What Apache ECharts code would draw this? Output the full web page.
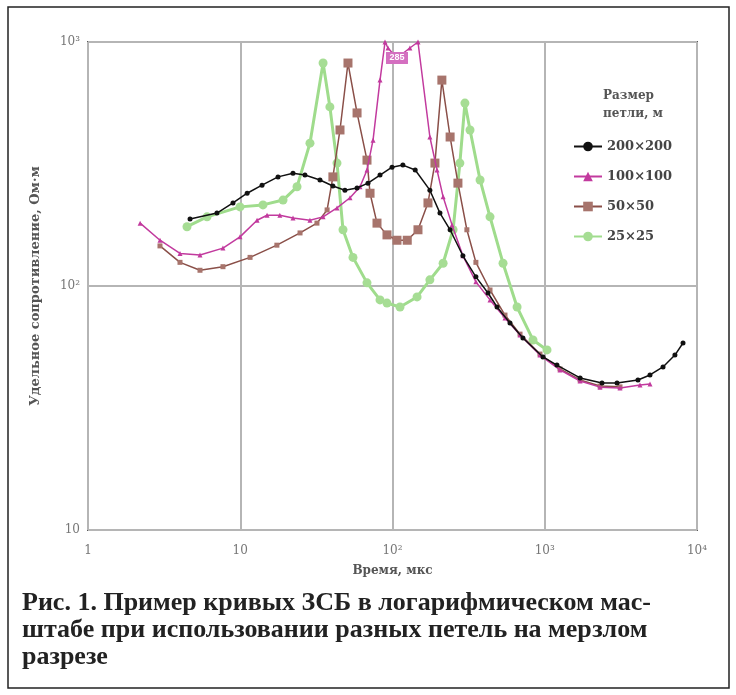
<!DOCTYPE html>
<html><head><meta charset="utf-8">
<script src="https://cdn.jsdelivr.net/npm/echarts@6/dist/echarts.min.js"></script>
<style>html,body{margin:0;padding:0;background:#fff}#c{width:736px;height:695px}</style>
</head><body><div id="c"></div>
<script>
// Series data: [time (мкс), resistivity (Ом·м)]
const s200 = [[4.68,188],[7.03,199],[8.96,219],[11.1,240],[13.9,259],[17.7,280],[22.2,290],[26.6,285],[33.4,272],[40.6,257],[48.7,247],[58.5,252],[69.0,264],[82.8,285],[99.3,307],[117,313],[141,299],[176,247],[205,199],[239,170],[290,133],[353,109],[424,93.6],[486,82],[591,70.5],[719,61.2],[973,51.2],[1202,47.4],[1706,42],[2377,40],[2985,40],[4094,41.2],[4911,43.2],[5980,46.6],[7162,52.1],[8094,58.4]];
const s100 = [[2.20,181],[2.97,154],[4.02,136],[5.44,134],[7.70,143],[9.96,159],[12.9,186],[15.0,195],[18.2,195],[22.2,190],[28.7,186],[35.0,192],[43.2,209],[52.6,230],[61.2,255],[68.0,299],[74.5,396],[82.8,698],[89.3,1000],[93.4,945],[107,860],[130,945],[147,1000],[176,408],[196,299],[215,232],[246,178],[290,133],[353,104],[437,87.7],[548,73.9],[688,63],[930,52.1],[1259,45.3],[1706,40.8],[2307,38.5],[3121,38.2],[4224,39.3],[4911,39.7]];
const s50 = [[2.97,146],[4.02,125],[5.44,116],[7.70,120],[11.6,131],[17.4,147],[24.7,165],[31.9,181],[37.2,205],[40.6,280],[45.2,436],[51.0,820],[58.5,512],[68.0,328],[71.2,240],[79.1,181],[92.0,162],[107,154],[125,154],[147,170],[171,219],[190,319],[211,698],[239,408],[269,264],[308,170],[353,125],[437,96.3],[548,76],[688,63.5],[930,52.6],[1259,45.7],[1706,41.2],[2307,38.9],[3121,38.6]];
const s25 = [[4.47,175],[6.05,192],[9.96,211],[14.1,215],[19.1,225],[23.6,255],[28.7,385],[35.0,820],[38.8,542],[43.2,319],[47.3,170],[55.0,131],[68.0,103],[82.8,87.7],[92.0,85.1],[112,82],[145,90.2],[176,106],[215,124],[250,170],[277,319],[299,562],[323,436],[376,272],[437,192],[532,124],[658,82],[837,60.1],[1035,54.7]];
const seriesNames = ['200×200','100×100','50×50','25×25'];
const xTicks = {1:'1',10:'10',100:'10²',1000:'10³',10000:'10⁴'};
const yTicks = {10:'10',100:'10²',1000:'10³'};

const chart = echarts.init(document.getElementById('c'));
const serif = 'Liberation Serif';
const dserif = 'DejaVu Serif';
chart.setOption({
  animation:false,
  backgroundColor:'#fff',
  grid:{left:88,right:39,top:42,bottom:165,show:true,borderColor:'#5a5a5a',borderWidth:2},
  xAxis:{type:'log',logBase:10,min:1,max:10000,
    name:'Время, мкс',nameLocation:'middle',nameGap:35,
    nameTextStyle:{fontFamily:dserif,fontWeight:'bold',fontSize:12,color:'#555'},
    axisLine:{show:false},axisTick:{show:false},minorTick:{show:false},
    axisLabel:{fontFamily:dserif,fontSize:12,color:'#777',margin:15,formatter:v=>xTicks[Math.round(v)]||''},
    splitLine:{show:true,lineStyle:{color:'#b5b5b5',width:2}}},
  yAxis:{type:'log',logBase:10,min:10,max:1000,
    name:'Удельное сопротивление, Ом·м',nameLocation:'middle',nameGap:46,
    nameTextStyle:{fontFamily:dserif,fontWeight:'bold',fontSize:13,color:'#555'},
    axisLine:{show:false},axisTick:{show:false},
    axisLabel:{fontFamily:dserif,fontSize:12,color:'#777',margin:8,formatter:v=>yTicks[Math.round(v)]||''},
    splitLine:{show:true,lineStyle:{color:'#b5b5b5',width:2}}},
  legend:{orient:'vertical',left:568,top:135,itemWidth:28,itemHeight:12,itemGap:17,
    textStyle:{fontFamily:dserif,fontWeight:'bold',fontSize:13,color:'#444'},
    data:seriesNames},
  graphic:[
    {type:'rect',shape:{x:8,y:7,width:721,height:681},style:{fill:'none',stroke:'#222',lineWidth:1.5},z:-1},
    {type:'text',left:603,top:87,style:{text:'Размер\nпетли, м',align:'center',fontFamily:dserif,fontWeight:'bold',fontSize:12,fill:'#555',lineHeight:18}},
    {type:'text',left:22,top:590,style:{text:'Рис. 1. Пример кривых ЗСБ в логарифмическом мас-\nштабе при использовании разных петель на мерзлом\nразрезе',fontFamily:serif,fontWeight:'bold',fontSize:26,fill:'#222',lineHeight:27}}
  ],
  series:[
    {name:seriesNames[0],type:'line',data:s200,symbol:'circle',symbolSize:5,z:5,
      itemStyle:{color:'#111'},lineStyle:{color:'#111',width:1.5}},
    {name:seriesNames[1],type:'line',data:s100,symbol:'triangle',symbolSize:5,z:4,
      itemStyle:{color:'#c23a9e'},lineStyle:{color:'#c23a9e',width:1.5},
      markPoint:{symbol:'rect',symbolSize:[22,12],itemStyle:{color:'#d46fc0'},label:{show:true,formatter:'285',color:'#fff',fontSize:9,fontWeight:'bold'},data:[{coord:[107,860]}]}},
    {name:seriesNames[2],type:'line',data:s50,symbol:'rect',z:3,
      symbolSize:v=>(v[0]>40&&v[0]<300&&v[1]>140)?9:5,
      itemStyle:{color:'#a7746c'},lineStyle:{color:'#8a4f48',width:1.5}},
    {name:seriesNames[3],type:'line',data:s25,symbol:'circle',symbolSize:9,z:2,
      itemStyle:{color:'#a6dd94'},lineStyle:{color:'#9fdc8c',width:3}}
  ]
});
</script></body></html>
